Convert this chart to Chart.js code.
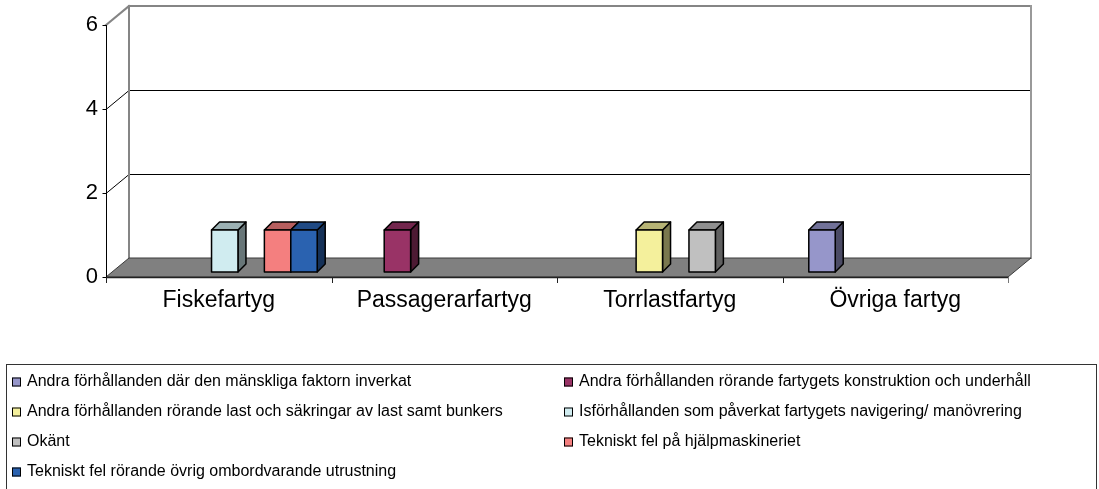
<!DOCTYPE html>
<html>
<head>
<meta charset="utf-8">
<script src="https://cdn.jsdelivr.net/npm/chart.js@4/dist/chart.umd.min.js"></script>
<style>
    body { margin: 0; background: #fff; }
    canvas { display: block; }
</style>
</head>
<body>
<canvas id="orsaker" width="1099" height="489"></canvas>
<script>
// Fartygstyper och orsaker
const categories = ['Fiskefartyg', 'Passagerarfartyg', 'Torrlastfartyg', 'Övriga fartyg'];

const seriesNames = [
    'Andra förhållanden där den mänskliga faktorn inverkat',
    'Andra förhållanden rörande fartygets konstruktion och underhåll',
    'Andra förhållanden rörande last och säkringar av last samt bunkers',
    'Isförhållanden som påverkat fartygets navigering/ manövrering',
    'Okänt',
    'Tekniskt fel på hjälpmaskineriet',
    'Tekniskt fel rörande övrig ombordvarande utrustning'
];

const manskligaFaktorn = [0, 0, 0, 1];
const konstruktion     = [0, 1, 0, 0];
const lastBunkers      = [0, 0, 1, 0];
const isforhallanden   = [1, 0, 0, 0];
const okant            = [0, 0, 1, 0];
const hjalpmaskineri   = [1, 0, 0, 0];
const ovrigUtrustning  = [1, 0, 0, 0];

const seriesValues = [manskligaFaktorn, konstruktion, lastBunkers, isforhallanden,
                      okant, hjalpmaskineri, ovrigUtrustning];

const yTicks = [0, 2, 4, 6];

const seriesColors = ['#9696CA', '#993366', '#F4F09C', '#D0ECF0', '#C0C0C0', '#F47F7F', '#2A62B0'];

const FONT = '"Liberation Sans", Arial, sans-serif';

// depth of the walls and of the bars, in pixels
const WALL_DX = 23, WALL_DY = -19;
const BAR_SHIFT_X = 6, BAR_SHIFT_Y = -5;
const BAR_DX = 8, BAR_DY = -8;

function shade(hex, k) {
    const n = parseInt(hex.slice(1), 16);
    const r = Math.round(((n >> 16) & 255) * k);
    const g = Math.round(((n >> 8) & 255) * k);
    const b = Math.round((n & 255) * k);
    return `rgb(${r}, ${g}, ${b})`;
}

function line(ctx, x1, y1, x2, y2, color, width) {
    ctx.beginPath();
    ctx.moveTo(x1, y1);
    ctx.lineTo(x2, y2);
    ctx.strokeStyle = color;
    ctx.lineWidth = width || 1;
    ctx.stroke();
}

const box3d = {
    id: 'box3d',
    beforeDatasetsDraw(chart) {
        const { ctx, chartArea: a, scales: { y } } = chart;
        const L = a.left, R = a.right;
        const yTop = y.getPixelForValue(yTicks[yTicks.length - 1]);
        const y0 = y.getPixelForValue(0);

        ctx.save();

        // back wall gridlines and left wall diagonals
        yTicks.slice(1, -1).forEach(v => {
            const py = Math.round(y.getPixelForValue(v)) + 0.5;
            line(ctx, L + WALL_DX, py + WALL_DY, R + WALL_DX, py + WALL_DY, '#000', 1);
            line(ctx, L, py, L + WALL_DX, py + WALL_DY, '#000', 1);
        });

        // wall outlines
        ctx.lineCap = 'square';
        line(ctx, L + WALL_DX, yTop + WALL_DY, R + WALL_DX, yTop + WALL_DY, '#858585', 2);
        line(ctx, L + WALL_DX, yTop + WALL_DY, L + WALL_DX, y0 + WALL_DY, '#858585', 2);
        line(ctx, R + WALL_DX, yTop + WALL_DY, R + WALL_DX, y0 + WALL_DY, '#999', 2);
        line(ctx, L, yTop, L + WALL_DX, yTop + WALL_DY, '#858585', 2);
        ctx.lineCap = 'butt';

        // floor
        ctx.beginPath();
        ctx.moveTo(L, y0);
        ctx.lineTo(R, y0);
        ctx.lineTo(R + WALL_DX, y0 + WALL_DY);
        ctx.lineTo(L + WALL_DX, y0 + WALL_DY);
        ctx.closePath();
        ctx.fillStyle = '#808080';
        ctx.fill();
        ctx.strokeStyle = '#3a3a3a';
        ctx.lineWidth = 1;
        ctx.stroke();
        line(ctx, L, y0 + 0.5, R, y0 + 0.5, '#222', 1.5);

        // front value axis with tick marks
        const ax = Math.round(L) + 0.5;
        line(ctx, ax, yTop, ax, y0, '#000', 1);
        yTicks.forEach(v => {
            const py = Math.round(y.getPixelForValue(v)) + 0.5;
            line(ctx, ax - 4, py, ax, py, '#000', 1);
        });

        // category axis tick marks
        const step = (R - L) / categories.length;
        for (let i = 0; i <= categories.length; i++) {
            const px = Math.round(L + i * step) + 0.5;
            line(ctx, px, y0, px, y0 + 6, i === categories.length ? '#777' : '#222', 1);
        }

        // bars as boxes, left to right so neighbours cover hidden sides
        const bars = [];
        chart.data.datasets.forEach((ds, d) => {
            chart.getDatasetMeta(d).data.forEach((bar, i) => {
                if (!(ds.data[i] > 0)) return;
                const p = bar.getProps(['x', 'y', 'base', 'width'], true);
                bars.push({ p, color: ds.backgroundColor });
            });
        });
        bars.sort((m, n) => m.p.x - n.p.x);

        ctx.lineJoin = 'round';
        ctx.lineWidth = 1.5;
        ctx.strokeStyle = '#000';
        bars.forEach(({ p, color }) => {
            const x0 = p.x - p.width / 2 + BAR_SHIFT_X;
            const x1 = p.x + p.width / 2 + BAR_SHIFT_X;
            const t = p.y + BAR_SHIFT_Y;
            const b = p.base + BAR_SHIFT_Y;

            ctx.beginPath();
            ctx.moveTo(x1, t);
            ctx.lineTo(x1 + BAR_DX, t + BAR_DY);
            ctx.lineTo(x1 + BAR_DX, b + BAR_DY);
            ctx.lineTo(x1, b);
            ctx.closePath();
            ctx.fillStyle = shade(color, 0.5);
            ctx.fill();
            ctx.stroke();

            ctx.beginPath();
            ctx.moveTo(x0, t);
            ctx.lineTo(x0 + BAR_DX, t + BAR_DY);
            ctx.lineTo(x1 + BAR_DX, t + BAR_DY);
            ctx.lineTo(x1, t);
            ctx.closePath();
            ctx.fillStyle = shade(color, 0.75);
            ctx.fill();
            ctx.stroke();

            ctx.beginPath();
            ctx.rect(x0, t, x1 - x0, b - t);
            ctx.fillStyle = color;
            ctx.fill();
            ctx.stroke();
        });

        ctx.restore();
        return false;
    }
};

// legend in two columns inside a framed box
const boxLegend = {
    id: 'boxLegend',
    afterDraw(chart) {
        const ctx = chart.ctx;
        ctx.save();
        ctx.strokeStyle = '#333';
        ctx.lineWidth = 1;
        ctx.strokeRect(6.5, 364.5, 1090, 140);

        const colX = [12, 564];
        ctx.font = `16px ${FONT}`;
        ctx.textBaseline = 'middle';
        chart.data.datasets.forEach((ds, i) => {
            const mx = colX[i % 2];
            const cy = 382 + Math.floor(i / 2) * 30;
            ctx.fillStyle = ds.backgroundColor;
            ctx.fillRect(mx, cy - 4.5, 9, 9);
            ctx.strokeStyle = '#000';
            ctx.strokeRect(mx + 0.5, cy - 4, 8, 8);
            ctx.fillStyle = '#000';
            ctx.fillText(ds.label, mx + 15, cy);
        });
        ctx.restore();
    }
};

new Chart(document.getElementById('orsaker'), {
    type: 'bar',
    data: {
        labels: categories,
        datasets: seriesNames.map((name, i) => ({
            label: name,
            data: seriesValues[i],
            backgroundColor: seriesColors[i],
            categoryPercentage: 0.82,
            barPercentage: 1.0
        }))
    },
    options: {
        responsive: false,
        animation: false,
        layout: { padding: { left: 0, right: 91, top: 25, bottom: 172 } },
        plugins: {
            legend: { display: false },
            tooltip: { enabled: false }
        },
        scales: {
            x: {
                grid: { display: false, drawTicks: false },
                border: { display: false },
                ticks: { font: { family: FONT, size: 23 }, color: '#000', padding: 10 },
                afterFit: s => { s.height = 40; }
            },
            y: {
                min: 0,
                max: 6,
                grid: { display: false, drawTicks: false },
                border: { display: false },
                ticks: { stepSize: 2, font: { family: FONT, size: 22 }, color: '#000', padding: 8 },
                afterFit: s => { s.width = 106; }
            }
        }
    },
    plugins: [box3d, boxLegend]
});
</script>
</body>
</html>
